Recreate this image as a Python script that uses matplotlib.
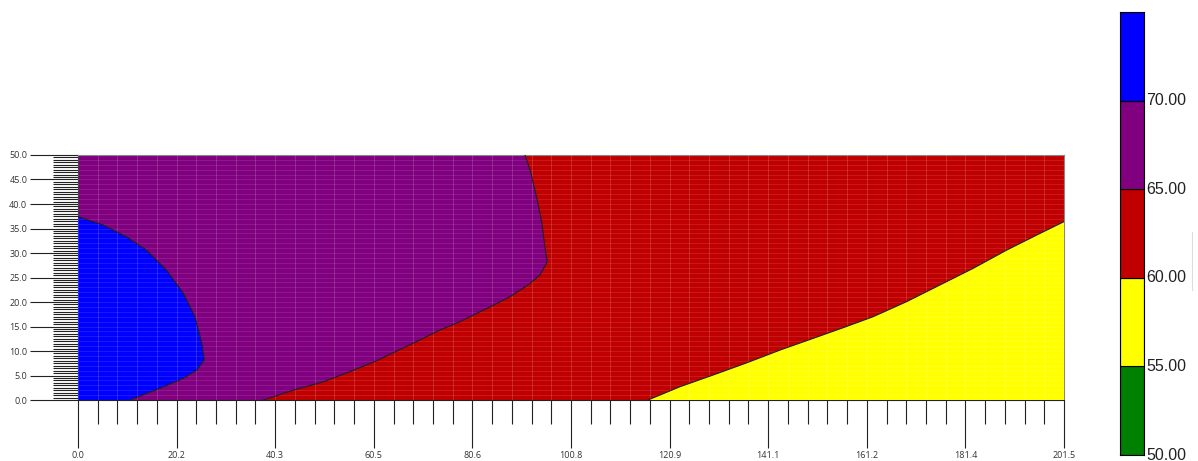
import numpy as np
import matplotlib
matplotlib.use("Agg")
import matplotlib.pyplot as plt
from matplotlib.ticker import MultipleLocator

# ➤ Όρια περιοχών (σημεία των καμπυλών ισοτιμίας, x, y)
blue_x = [0.0, 5.2, 9.95, 14.0, 18.1, 21.5, 23.9, 25.3, 25.8, 24.3, 21.5, 16.8, 10.6]
blue_y = [37.4, 35.7, 33.3, 30.6, 26.5, 21.8, 17.0, 11.6, 8.2, 6.1, 4.4, 2.4, 0.0]

purple_x = [37.9, 44.0, 50.1, 55.6, 61.0, 68.5, 74.0, 78.1, 80.1, 84.2, 88.3, 92.0,
            94.4, 95.9, 95.4, 94.8, 93.7, 92.4, 91.35]
purple_y = [0.0, 2.0, 3.7, 5.8, 8.0, 11.6, 14.3, 16.0, 17.0, 19.0, 21.1, 23.5,
            25.5, 28.2, 31.3, 36.1, 41.5, 46.9, 50.0]

yellow_x = [116.5, 123.0, 129.8, 136.7, 143.5, 150.3, 156.5, 162.5, 169.4, 176.2,
            183.0, 189.8, 196.6, 201.5]
yellow_y = [0.0, 2.7, 5.1, 7.6, 10.2, 12.6, 14.8, 17.0, 20.1, 23.5,
            26.9, 30.6, 34.0, 36.4]

x_ticks = [0.0, 20.15, 40.3, 60.45, 80.6, 100.75, 120.9, 141.05, 161.2, 181.35, 201.5]
x_labels = ["0.0", "20.2", "40.3", "60.5", "80.6", "100.8", "120.9", "141.1", "161.2", "181.4", "201.5"]
y_ticks = [0, 5, 10, 15, 20, 25, 30, 35, 40, 45, 50]

levels = [50, 55, 60, 65, 70, 75]
level_colors = ["#008000", "#FFFF00", "#C00000", "#800080", "#0000FF"]
level_labels = ["50.00", "55.00", "60.00", "65.00", "70.00"]

x_max, y_max = 201.5, 50.0

W, H = 1198, 461
fig = plt.figure(figsize=(W / 100, H / 100), dpi=100)
ax = fig.add_axes([78 / W, (H - 400) / H, (1064 - 78) / W, (400 - 155) / H])

# ➤ Περιοχές
ax.fill([0, x_max, x_max, 0], [0, 0, y_max, y_max], color="#C00000", lw=0, zorder=1)
ax.fill(purple_x + [0, 0], purple_y + [y_max, 0], color="#800080", lw=0, zorder=2)
ax.fill(blue_x + [0], blue_y + [0], color="#0000FF", lw=0, zorder=3)
ax.fill(yellow_x + [x_max], yellow_y + [0], color="#FFFF00", lw=0, zorder=3)

# ➤ Πλέγμα
for xv in np.arange(0, x_max, x_max / 50):
    ax.axvline(xv, color="white", alpha=0.18, lw=0.6, zorder=4)
for yv in np.arange(0, y_max, 1.0):
    ax.axhline(yv, color="white", alpha=0.12, lw=0.6, zorder=4)

# ➤ Γραμμές ορίων
for bx, by in [(blue_x, blue_y), (purple_x, purple_y), (yellow_x, yellow_y)]:
    ax.plot(bx, by, color="#202020", lw=0.8, zorder=5)

ax.set_xlim(0, x_max)
ax.set_ylim(0, y_max)
ax.set_xticks(x_ticks)
ax.set_xticklabels(x_labels)
ax.set_yticks(y_ticks)
ax.set_yticklabels([f"{v:.1f}" for v in y_ticks])
ax.xaxis.set_minor_locator(MultipleLocator(x_max / 50))
ax.yaxis.set_minor_locator(MultipleLocator(0.5))
ax.tick_params(axis="x", which="major", length=34.5, width=0.8, color="#222222",
               pad=2, labelsize=6.5, labelcolor="#333333")
ax.tick_params(axis="x", which="minor", length=17, width=0.8, color="#222222")
ax.tick_params(axis="y", which="major", length=34.5, width=0.8, color="#222222",
               pad=2, labelsize=6.5, labelcolor="#333333")
ax.tick_params(axis="y", which="minor", length=18, width=0.8, color="#222222")
for lab in ax.get_xticklabels() + ax.get_yticklabels():
    lab.set_family("Open Sans")
for s in ["top", "right"]:
    ax.spines[s].set_color("#888888")
for s in ["left", "bottom"]:
    ax.spines[s].set_color("#222222")
for s in ax.spines.values():
    s.set_linewidth(0.8)

# ➤ Υπόμνημα χρωμάτων
cax = fig.add_axes([1120 / W, (H - 455) / H, 24 / W, (455 - 12) / H])
for lo, hi, c in zip(levels[:-1], levels[1:], level_colors):
    cax.bar(0, hi - lo, bottom=lo, width=1, color=c, edgecolor="black", lw=0.8)
cax.set_xlim(-0.5, 0.5)
cax.set_ylim(levels[0], levels[-1])
cax.set_xticks([])
cax.set_yticks([])
for s in cax.spines.values():
    s.set_linewidth(0.8)
for lv, txt in zip(levels[:-1], level_labels):
    cax.text(1.08, lv, txt, transform=cax.get_yaxis_transform(), ha="left", va="center",
             fontsize=11.5, family="Liberation Sans", color="#222222", clip_on=False)

fig.add_artist(plt.Line2D([1192 / W, 1192 / W], [(H - 290) / H, (H - 232) / H],
                          color="#dddddd", lw=0.8))

fig.savefig("out.png", dpi=100)
